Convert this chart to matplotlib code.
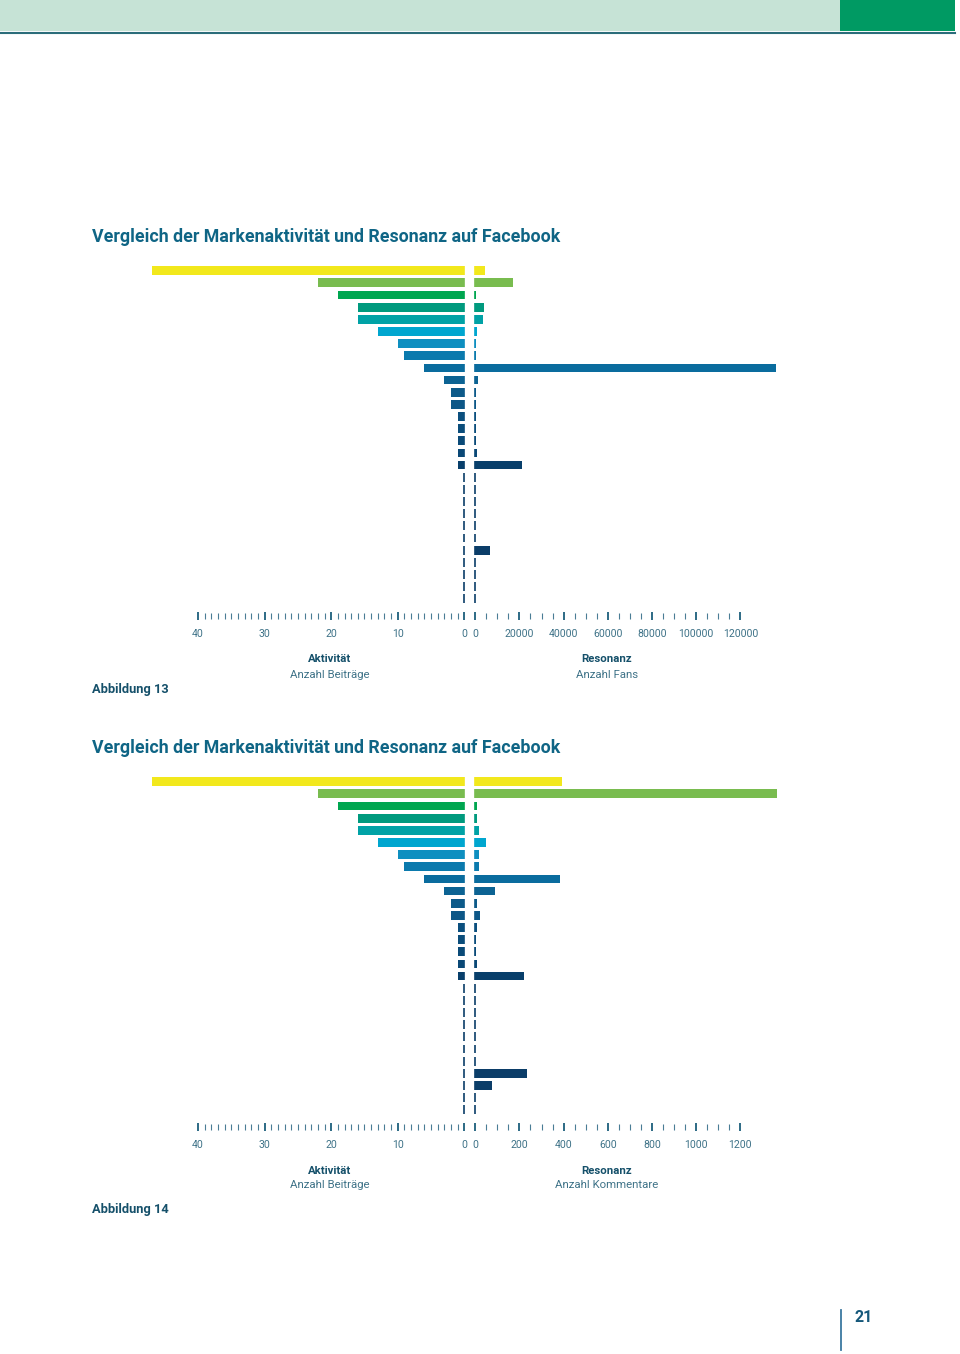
import numpy as np
import matplotlib
matplotlib.use("Agg")
import matplotlib.pyplot as plt
from matplotlib.patches import Rectangle
from matplotlib.lines import Line2D
from matplotlib.ticker import FixedLocator

plt.rcParams['font.family'] = ['Roboto', 'DejaVu Sans']

# Daten: 28 Marken, gleiche Reihenfolge in beiden Abbildungen
beitraege = [47, 22, 19, 16, 16, 13, 10, 9, 6, 3, 2, 2, 1, 1, 1, 1, 1,
             0, 0, 0, 0, 0, 0, 0, 0, 0, 0, 0]
fans = [4500, 17000, 300, 4200, 3500, 750, 300, 300, 136000, 1200, 300, 300,
        400, 400, 300, 600, 21000, 0, 0, 0, 0, 0, 0, 6800, 0, 0, 0, 0]
kommentare = [395, 1365, 7, 7, 19, 51, 15, 15, 384, 90, 7, 22, 7, 5, 5, 8, 220,
              0, 0, 0, 0, 0, 0, 0, 236, 78, 0, 0]

farben = ['#f2e81c', '#79bc4f', '#00a650', '#009a7e', '#00a2a6', '#00a6cf',
          '#0e8fc0', '#0b7aad', '#0a6c9e', '#0c6393', '#0d5a89', '#0d5787',
          '#0b4f7e', '#0b4d7b', '#0a4a78', '#0a4876', '#083f6b'] + ['#0b3d68'] * 11

links_ticks = [40, 30, 20, 10, 0]
fans_ticks = [0, 20000, 40000, 60000, 80000, 100000, 120000]
komm_ticks = [0, 200, 400, 600, 800, 1000, 1200]

W, H = 960, 1354
fig = plt.figure(figsize=(W / 100, H / 100), dpi=100)

titel_farbe = '#0f6585'
dunkel = '#15506a'
grau = '#3f7388'


def px(x, y, w, h):
    # Pixelbox (von oben gemessen) -> Figure-Koordinaten
    return [x / W, 1 - (y + h) / H, w / W, h / H]


def ftext(x, y, s, **kw):
    fig.text(x / W, 1 - y / H, s, **kw)


# Kopfleiste
fig.add_artist(Rectangle((0, 1 - 31 / H), 840 / W, 31 / H, transform=fig.transFigure,
                         color='#c6e3d6', lw=0))
fig.add_artist(Rectangle((840 / W, 1 - 31 / H), 115 / W, 31 / H, transform=fig.transFigure,
                         color='#009a63', lw=0))
fig.add_artist(Line2D([0, 955 / W], [1 - 32.5 / H, 1 - 32.5 / H], transform=fig.transFigure,
                      color='#2b6d7a', lw=1.5))

rows = np.arange(28)
dy_row = 12.15
pxu_links = 6.655     # Pixel pro Beitrag
pxu_rechts = 44.2     # Pixel pro Hauptintervall


def stil(ax, major, minor, labels):
    for s in ax.spines.values():
        s.set_visible(False)
    ax.set_yticks([])
    ax.xaxis.set_major_locator(FixedLocator(major))
    ax.xaxis.set_minor_locator(FixedLocator(minor))
    ax.set_xticklabels(labels)
    ax.tick_params(axis='x', which='major', direction='inout', length=6, width=1.3,
                   color='#1d5f7c', pad=6.5, labelsize=7.6, labelcolor=grau)
    ax.tick_params(axis='x', which='minor', direction='inout', length=3.8, width=0.8,
                   color='#4a7d95')
    ax.patch.set_alpha(0)


def diagramm(top, titel, rechts_werte, rechts_ticks, rechts_max, rechts_label, abb):
    row1 = top
    spine = row1 + 345.3
    ax_top = row1 - 10
    h = spine - ax_top
    y0 = (spine - row1) / dy_row
    y1 = (ax_top - row1) / dy_row

    # linke Seite: Aktivitaet
    x0 = 464.3
    axl = fig.add_axes(px(x0 - 48 * pxu_links, ax_top, 48 * pxu_links, h))
    axl.barh(rows, beitraege, height=0.72, color=farben)
    axl.vlines(np.zeros(28), rows - 0.36, rows + 0.36, colors=farben, lw=1.2, clip_on=False)
    axl.set_xlim(48, 0)
    axl.set_ylim(y0, y1)
    stil(axl, links_ticks, [v for v in range(41) if v % 10],
         [str(v) for v in links_ticks])

    # rechte Seite: Resonanz
    xr = 475.2
    step = rechts_ticks[1]
    breite = rechts_max / step * pxu_rechts
    axr = fig.add_axes(px(xr, ax_top, breite, h))
    axr.barh(rows, rechts_werte, height=0.72, color=farben)
    axr.vlines(np.zeros(28), rows - 0.36, rows + 0.36, colors=farben, lw=1.2, clip_on=False)
    axr.set_xlim(0, rechts_max)
    axr.set_ylim(y0, y1)
    minor = [v for v in np.arange(0, rechts_ticks[-1] + 1, step / 4) if v % step]
    stil(axr, rechts_ticks, minor, [str(v) for v in rechts_ticks])

    ftext(92, row1 - 33.5, titel, fontsize=12.8, fontweight='bold', color=titel_farbe,
          va='center', ha='left')
    ftext(330, spine + 43.5, 'Aktivität', fontsize=8.2, fontweight='bold', color=dunkel,
          ha='center', va='center')
    ftext(330, spine + 58.5, 'Anzahl Beiträge', fontsize=8.2, color=grau,
          ha='center', va='center')
    ftext(607, spine + 43.5, 'Resonanz', fontsize=8.2, fontweight='bold', color=dunkel,
          ha='center', va='center')
    ftext(607, spine + 58.5, rechts_label, fontsize=8.2, color=grau,
          ha='center', va='center')
    ftext(92, abb[1], abb[0], fontsize=9.3, fontweight='bold', color=dunkel,
          ha='left', va='center')


titel = 'Vergleich der Markenaktivität und Resonanz auf Facebook'
diagramm(270.7, titel, fans, fans_ticks, 150000, 'Anzahl Fans', ('Abbildung 13', 690))
diagramm(781.7, titel, kommentare, komm_ticks, 1500, 'Anzahl Kommentare',
         ('Abbildung 14', 1209))

# Seitenzahl
fig.add_artist(Line2D([841 / W, 841 / W], [1 - 1310 / H, 1 - 1350 / H],
                      transform=fig.transFigure, color='#3a78a0', lw=1.3))
ftext(864, 1317, '21', fontsize=11.5, fontweight='bold', color='#15587a',
      ha='center', va='center')

fig.savefig('out.png', dpi=100, facecolor='white')
